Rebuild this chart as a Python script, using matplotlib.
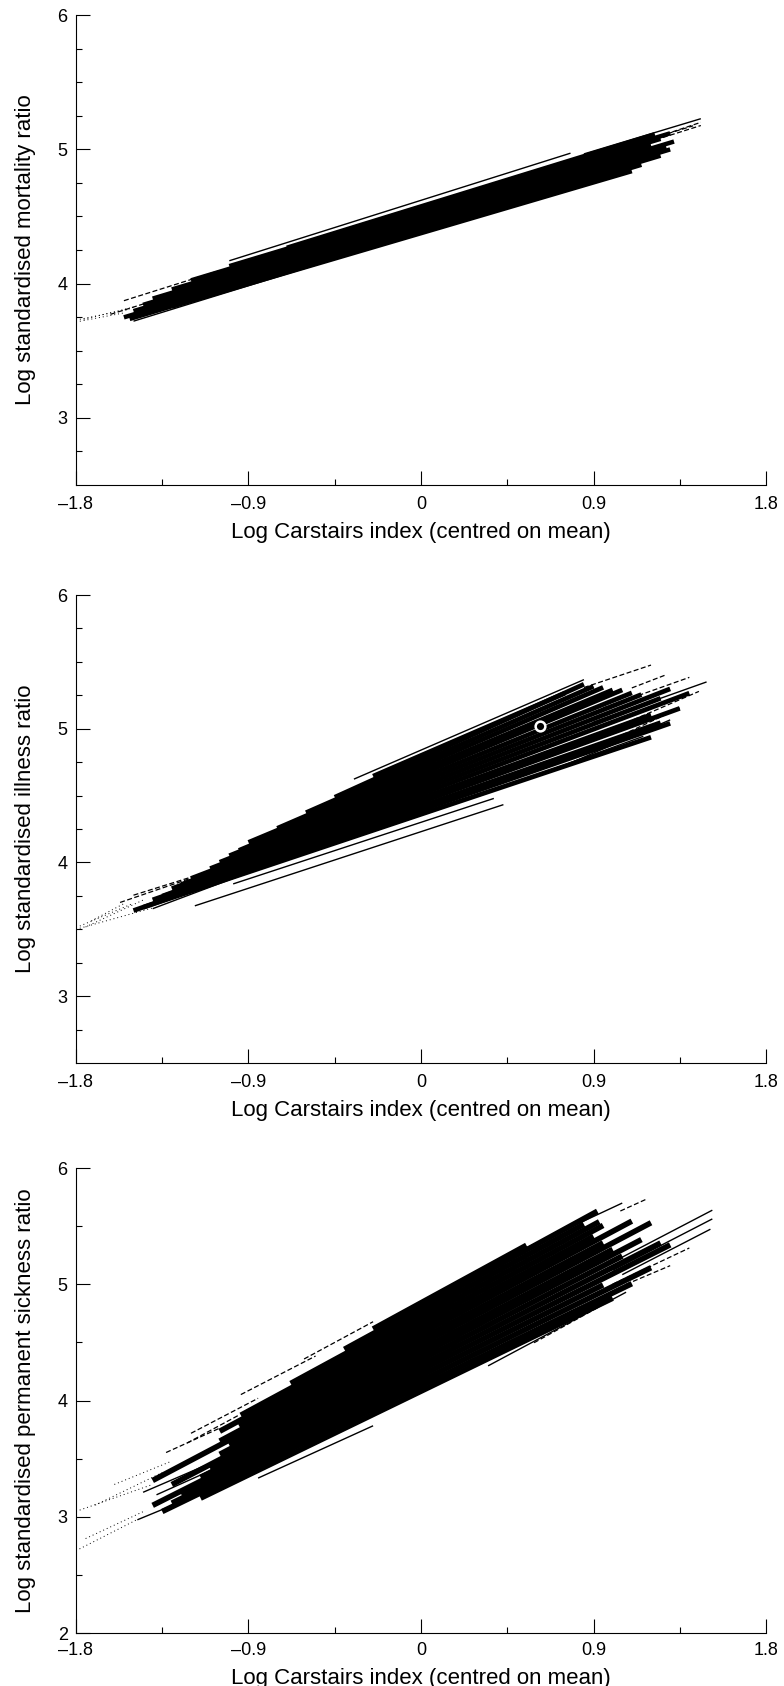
import matplotlib
matplotlib.use('Agg')
import matplotlib.pyplot as plt
from matplotlib.ticker import FixedLocator, FixedFormatter

plt.rcParams['font.family'] = ['Liberation Sans', 'DejaVu Sans']

# axis ticks
x_major = [-1.8, -0.9, 0, 0.9, 1.8]
x_minor = [-1.35, -0.45, 0.45, 1.35]
x_labels = ['\u20131.8', '\u20130.9', '0', '0.9', '1.8']
y_major_a = [3, 4, 5, 6]
y_minor_a = [2.75, 3.25, 3.5, 3.75, 4.25, 4.5, 4.75, 5.25, 5.5, 5.75]
y_major_b = [2, 3, 4, 5, 6]
y_minor_b = [2.5, 3.5, 4.5, 5.5]

x_title = 'Log Carstairs index (centred on mean)'
y_titles = ['Log standardised mortality ratio',
            'Log standardised illness ratio',
            'Log standardised permanent sickness ratio']

# fitted line per area: (intercept, slope, lowest x, highest x)
mort_solid = [
    (4.375, 0.42, -1.30, 1.10),
    (4.390, 0.43, -1.52, 1.15),
    (4.415, 0.43, -1.55, 1.25),
    (4.440, 0.43, -1.50, 1.30),
    (4.465, 0.43, -1.45, 1.28),
    (4.490, 0.43, -1.40, 1.32),
    (4.515, 0.43, -1.30, 1.20),
    (4.540, 0.43, -1.20, 1.25),
    (4.560, 0.43, -1.00, 1.30),
    (4.575, 0.44, -0.70, 1.22),
]
mort_fine = [
    (4.62, 0.45, -1.00, 0.78),
    (4.60, 0.43, 0.85, 1.46),
    (4.38, 0.44, -1.50, 0.87),
]
mort_dashed = [
    (4.52, 0.45, 1.00, 1.46),
    (4.55, 0.44, 1.10, 1.42),
    (4.50, 0.48, 1.20, 1.46),
    (4.57, 0.45, -1.55, -1.05),
    (4.50, 0.45, -1.62, -1.20),
]
mort_dotted = [
    (4.20, 0.27, -1.80, -1.55),
    (4.25, 0.29, -1.78, -1.52),
    (4.35, 0.35, -1.76, -1.50),
]

ill_solid = [
    (4.36, 0.48, -1.45, 1.20),
    (4.39, 0.50, -1.50, 1.30),
    (4.42, 0.50, -1.40, 1.25),
    (4.45, 0.52, -1.35, 1.35),
    (4.48, 0.52, -1.30, 1.20),
    (4.51, 0.54, -1.25, 1.40),
    (4.54, 0.55, -1.20, 1.25),
    (4.57, 0.56, -1.10, 1.30),
    (4.60, 0.57, -1.05, 1.15),
    (4.63, 0.58, -1.00, 1.10),
    (4.66, 0.60, -0.95, 1.05),
    (4.69, 0.60, -0.90, 1.00),
    (4.72, 0.62, -0.75, 0.95),
    (4.75, 0.63, -0.60, 0.90),
    (4.78, 0.65, -0.45, 0.85),
    (4.80, 0.62, -0.25, 0.75),
]
ill_fine = [
    (4.84, 0.62, -0.35, 0.85),
    (4.23, 0.47, -1.18, 0.43),
    (4.30, 0.47, -0.98, 0.38),
    (4.34, 0.52, 0.30, 1.16),
    (4.26, 0.62, 0.75, 1.30),
    (4.59, 0.51, 0.90, 1.49),
    (4.41, 0.54, -1.40, -0.90),
    (4.73, 0.72, -1.21, -0.60),
]
ill_dashed = [
    (4.90, 0.48, 0.85, 1.20),
    (4.38, 0.62, 1.00, 1.45),
    (4.67, 0.51, 0.95, 1.40),
    (4.25, 0.67, 1.05, 1.35),
    (4.70, 0.55, 1.10, 1.28),
    (4.47, 0.49, -1.57, -1.00),
    (4.43, 0.45, -1.50, -1.10),
]
ill_dotted = [
    (4.22, 0.40, -1.80, -1.40),
    (4.61, 0.61, -1.78, -1.50),
    (4.69, 0.67, -1.75, -1.45),
    (4.87, 0.76, -1.72, -1.55),
]
ill_marker = (0.62, 5.02)

sick_solid = [
    (4.080, 0.800, -1.15, 1.00),
    (4.125, 0.800, -1.35, 1.10),
    (4.170, 0.810, -1.30, 1.20),
    (4.215, 0.820, -1.25, 0.95),
    (4.260, 0.830, -1.40, 1.30),
    (4.305, 0.840, -1.15, 1.25),
    (4.350, 0.850, -1.10, 1.05),
    (4.395, 0.860, -1.30, 1.15),
    (4.440, 0.860, -1.05, 1.00),
    (4.485, 0.870, -1.00, 1.20),
    (4.530, 0.870, -1.40, 0.95),
    (4.575, 0.880, -1.05, 1.10),
    (4.620, 0.880, -0.95, 0.90),
    (4.665, 0.885, -1.05, 0.95),
    (4.710, 0.890, -0.94, 0.93),
    (4.755, 0.895, -0.68, 0.85),
    (4.800, 0.900, -0.40, 0.92),
    (4.840, 0.900, -0.25, 0.55),
]
sick_fine = [
    (3.98, 0.68, -1.48, -0.95),
    (4.21, 0.74, -1.38, -0.95),
    (4.24, 0.71, -1.45, -1.10),
    (4.89, 0.77, 0.40, 1.05),
    (4.33, 0.86, 0.95, 1.52),
    (4.27, 0.85, 1.00, 1.52),
    (3.99, 0.88, 0.35, 1.07),
    (3.97, 0.75, -0.85, -0.25),
    (4.19, 0.85, 1.05, 1.51),
]
sick_dashed = [
    (4.85, 0.85, -0.94, -0.55),
    (4.90, 0.89, -0.61, -0.25),
    (4.75, 0.86, -1.20, -0.85),
    (4.55, 0.75, -1.33, -1.05),
    (4.72, 0.89, -1.22, -0.95),
    (4.85, 0.75, 1.04, 1.18),
    (4.22, 0.78, 1.00, 1.40),
    (4.25, 0.70, 1.07, 1.30),
    (3.96, 0.91, 0.59, 0.92),
]
sick_dotted = [
    (4.22, 0.84, -1.80, -1.48),
    (4.16, 0.77, -1.75, -1.45),
    (4.09, 0.58, -1.80, -1.40),
    (4.46, 0.80, -1.70, -1.35),
    (4.35, 0.67, -1.60, -1.30),
]


def draw_lines(ax, fits, **kw):
    for a, b, lo, hi in fits:
        ax.plot([lo, hi], [a + b * lo, a + b * hi], color='black',
                solid_capstyle='butt', **kw)


def style_axis(ax, ylim, ymaj, ymin, ylabel, tickpad, xlab_y):
    ax.set_xlim(-1.8, 1.8)
    ax.set_ylim(*ylim)
    for s in ['top', 'right']:
        ax.spines[s].set_visible(False)
    for s in ['left', 'bottom']:
        ax.spines[s].set_linewidth(0.8)
    ax.xaxis.set_major_locator(FixedLocator(x_major))
    ax.xaxis.set_major_formatter(FixedFormatter(x_labels))
    ax.xaxis.set_minor_locator(FixedLocator(x_minor))
    ax.yaxis.set_major_locator(FixedLocator(ymaj))
    ax.yaxis.set_minor_locator(FixedLocator(ymin))
    ax.tick_params(which='both', direction='in', top=False, right=False, width=0.8)
    ax.tick_params(which='major', length=10, labelsize=13)
    ax.tick_params(which='minor', length=4.3)
    ax.tick_params(axis='x', which='major', pad=tickpad)
    ax.tick_params(axis='y', which='major', pad=6)
    ax.set_xlabel(x_title, fontsize=16)
    ax.xaxis.set_label_coords(0.5, xlab_y)
    ax.set_ylabel(ylabel, fontsize=16)
    ax.yaxis.set_label_coords(-0.058, 0.5)


fig = plt.figure(figsize=(7.84, 16.86), dpi=100)
W, H = 784.0, 1686.0
left, right = 76, 766

# mortality
ax1 = fig.add_axes([left / W, 1 - 485 / H, (right - left) / W, 470 / H])
draw_lines(ax1, mort_solid, lw=3.2)
draw_lines(ax1, mort_fine, lw=1.0)
draw_lines(ax1, mort_dashed, lw=0.9, ls=(0, (4, 2)))
draw_lines(ax1, mort_dotted, lw=0.7, ls=(0, (1, 3)))
style_axis(ax1, (2.5, 6), y_major_a, y_minor_a, y_titles[0], 8.0, -0.079)

# illness
ax2 = fig.add_axes([left / W, 1 - 1063 / H, (right - left) / W, 468 / H])
draw_lines(ax2, ill_solid, lw=3.4)
draw_lines(ax2, ill_fine, lw=1.0)
draw_lines(ax2, ill_dashed, lw=0.9, ls=(0, (4, 2)))
draw_lines(ax2, ill_dotted, lw=0.7, ls=(0, (1, 3)))
ax2.plot([ill_marker[0]], [ill_marker[1]], marker='o', ms=7, mfc='black',
         mec='white', mew=1.8, ls='none')
style_axis(ax2, (2.5, 6), y_major_a, y_minor_a, y_titles[1], 8.0, -0.079)

# permanent sickness
ax3 = fig.add_axes([left / W, 1 - 1633 / H, (right - left) / W, 465 / H])
draw_lines(ax3, sick_solid, lw=4.0)
draw_lines(ax3, sick_fine, lw=1.0)
draw_lines(ax3, sick_dashed, lw=0.9, ls=(0, (4, 2)))
draw_lines(ax3, sick_dotted, lw=0.7, ls=(0, (1, 3)))
style_axis(ax3, (2, 6), y_major_b, y_minor_b, y_titles[2], 6.5, -0.075)

fig.savefig('out.png', dpi=100)
